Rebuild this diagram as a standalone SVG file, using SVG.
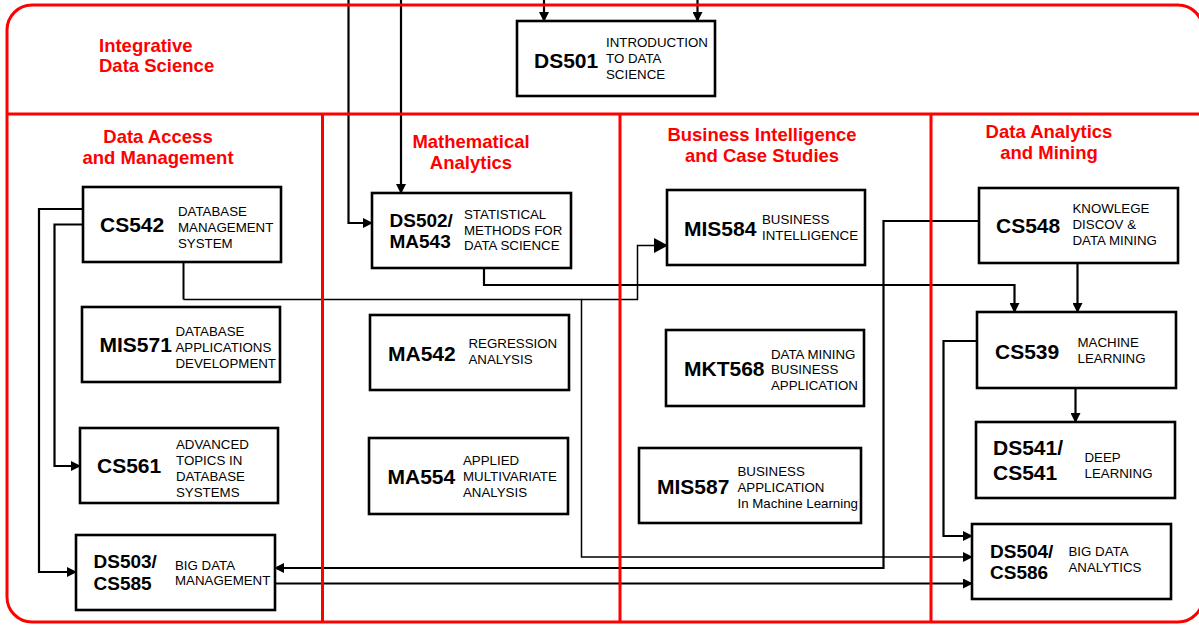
<svg xmlns="http://www.w3.org/2000/svg" width="1199" height="625" viewBox="0 0 1199 625">
<style>
.box{fill:#fff;stroke:#000;stroke-width:2.6}
.code{font-family:"Liberation Sans",Arial,sans-serif;font-weight:bold;font-size:21px;fill:#000}
.sm{font-size:19px}
.desc{font-family:"Liberation Sans",Arial,sans-serif;font-size:13.3px;fill:#000}
.hdr{font-family:"Liberation Sans",Arial,sans-serif;font-weight:bold;font-size:18.5px;fill:#ff0000}
.mid{text-anchor:middle}
.red{fill:none;stroke:#ff0000;stroke-width:3}
.c{fill:none;stroke:#000;stroke-width:2.2;marker-end:url(#arr)}
.t{fill:none;stroke:#000;stroke-width:1.5;marker-end:url(#arr)}
</style>
<defs>
<marker id="arr" markerUnits="userSpaceOnUse" markerWidth="10" markerHeight="10" refX="9" refY="5" orient="auto" viewBox="0 0 10 10">
<path d="M0,0 L10,5 L0,10 z" fill="#000"/>
</marker>
<marker id="arrL" markerUnits="userSpaceOnUse" markerWidth="14" markerHeight="15" refX="13" refY="7.5" orient="auto" viewBox="0 0 14 15">
<path d="M0,0 L14,7.5 L0,15 z" fill="#000"/>
</marker>
</defs>
<rect width="1199" height="625" fill="#fff"/>

<g id="connectors">
<path class="c" d="M544,0 V21"/>
<path class="c" d="M697.5,0 V21"/>
<path class="c" d="M348.5,0 V223 H372"/>
<path class="c" d="M401,0 V193"/>
<path class="c" d="M83,209 H39 V572 H76"/>
<path class="c" d="M83,224.5 H54.5 V466 H80"/>
<path fill="none" stroke="#000" stroke-width="2" d="M183.5,262 V299.5"/>
<path class="t" d="M183.5,299.5 H581.5 V557 H972"/>
<path fill="none" stroke="#000" stroke-width="1.5" marker-end="url(#arrL)" d="M581.5,299.5 H637.5 V245.5 H667"/>
<path class="c" d="M484,268 V285 H1014.5 V312"/>
<path class="c" d="M1077.5,263 V312"/>
<path class="c" d="M979,221 H883.5 V568 H275"/>
<path class="c" d="M1075.5,388 V422"/>
<path class="c" d="M977,341 H943.5 V536 H972"/>
<path class="c" d="M275,583.5 H972"/>
</g>

<g id="frame">
<rect class="red" x="7" y="5" width="1196" height="617" rx="25" ry="25"/>
<path class="red" d="M7,114 H1203 M322.5,114 V622 M620,114 V622 M931,114 V622"/>
<text class="hdr" x="99" y="51.5">Integrative</text>
<text class="hdr" x="99" y="72">Data Science</text>
<text class="hdr mid" x="158" y="142.5">Data Access</text>
<text class="hdr mid" x="158" y="163.5">and Management</text>
<text class="hdr mid" x="471" y="147.5">Mathematical</text>
<text class="hdr mid" x="471" y="168.5">Analytics</text>
<text class="hdr mid" x="762" y="140.5">Business Intelligence</text>
<text class="hdr mid" x="762" y="161.5">and Case Studies</text>
<text class="hdr mid" x="1049" y="137.5">Data Analytics</text>
<text class="hdr mid" x="1049" y="158.5">and Mining</text>
</g>

<g id="DS501">
<rect class="box" x="517" y="21" width="198" height="75"/>
<text class="code" x="534" y="68">DS501</text>
<text class="desc" x="606" y="46.5">INTRODUCTION</text>
<text class="desc" x="606" y="62.5">TO DATA</text>
<text class="desc" x="606" y="78.5">SCIENCE</text>
</g>

<g id="CS542">
<rect class="box" x="83" y="187" width="198" height="75"/>
<text class="code" x="100" y="232">CS542</text>
<text class="desc" x="178" y="215.5">DATABASE</text>
<text class="desc" x="178" y="231.5">MANAGEMENT</text>
<text class="desc" x="178" y="247.5">SYSTEM</text>
</g>

<g id="MIS571">
<rect class="box" x="82" y="307" width="198" height="75"/>
<text class="code" x="99.5" y="352">MIS571</text>
<text class="desc" x="175.5" y="336">DATABASE</text>
<text class="desc" x="175.5" y="352">APPLICATIONS</text>
<text class="desc" x="175.5" y="368">DEVELOPMENT</text>
</g>

<g id="CS561">
<rect class="box" x="80" y="428" width="198" height="75"/>
<text class="code" x="97" y="473">CS561</text>
<text class="desc" x="176" y="449">ADVANCED</text>
<text class="desc" x="176" y="465">TOPICS IN</text>
<text class="desc" x="176" y="481">DATABASE</text>
<text class="desc" x="176" y="497">SYSTEMS</text>
</g>

<g id="DS503">
<rect class="box" x="76" y="535" width="199" height="75"/>
<text class="code sm" x="93.5" y="568">DS503/</text>
<text class="code sm" x="93.5" y="590">CS585</text>
<text class="desc" x="175" y="569.5">BIG DATA</text>
<text class="desc" x="175" y="585">MANAGEMENT</text>
</g>

<g id="DS502">
<rect class="box" x="372" y="193" width="199" height="75"/>
<text class="code sm" x="389.5" y="227">DS502/</text>
<text class="code sm" x="389.5" y="248">MA543</text>
<text class="desc" x="464" y="218.5">STATISTICAL</text>
<text class="desc" x="464" y="234.5">METHODS FOR</text>
<text class="desc" x="464" y="250">DATA SCIENCE</text>
</g>

<g id="MA542">
<rect class="box" x="370" y="315" width="199" height="75"/>
<text class="code" x="388" y="361">MA542</text>
<text class="desc" x="468.5" y="348">REGRESSION</text>
<text class="desc" x="468.5" y="363.5">ANALYSIS</text>
</g>

<g id="MA554">
<rect class="box" x="369" y="438" width="199" height="76"/>
<text class="code" x="387.5" y="484">MA554</text>
<text class="desc" x="463" y="464.5">APPLIED</text>
<text class="desc" x="463" y="480.5">MULTIVARIATE</text>
<text class="desc" x="463" y="496.5">ANALYSIS</text>
</g>

<g id="MIS584">
<rect class="box" x="667" y="190" width="198" height="75"/>
<text class="code" x="684" y="236">MIS584</text>
<text class="desc" x="762" y="223.5">BUSINESS</text>
<text class="desc" x="762" y="239.5">INTELLIGENCE</text>
</g>

<g id="MKT568">
<rect class="box" x="666" y="330" width="198" height="76"/>
<text class="code" x="684" y="375.5">MKT568</text>
<text class="desc" x="771" y="358.5">DATA MINING</text>
<text class="desc" x="771" y="374">BUSINESS</text>
<text class="desc" x="771" y="390">APPLICATION</text>
</g>

<g id="MIS587">
<rect class="box" x="639" y="448" width="222" height="75"/>
<text class="code" x="657" y="493.5">MIS587</text>
<text class="desc" x="737.5" y="476">BUSINESS</text>
<text class="desc" x="737.5" y="492">APPLICATION</text>
<text class="desc" x="737.5" y="508">In Machine Learning</text>
</g>

<g id="CS548">
<rect class="box" x="979" y="188" width="199" height="75"/>
<text class="code" x="996" y="233">CS548</text>
<text class="desc" x="1072.5" y="213">KNOWLEGE</text>
<text class="desc" x="1072.5" y="229">DISCOV &amp;</text>
<text class="desc" x="1072.5" y="245">DATA MINING</text>
</g>

<g id="CS539">
<rect class="box" x="977" y="312" width="199" height="76"/>
<text class="code" x="995" y="359">CS539</text>
<text class="desc" x="1077.5" y="347">MACHINE</text>
<text class="desc" x="1077.5" y="363">LEARNING</text>
</g>

<g id="DS541">
<rect class="box" x="976" y="422" width="199" height="76"/>
<text class="code" x="993" y="454.5">DS541/</text>
<text class="code" x="993" y="479.5">CS541</text>
<text class="desc" x="1084.5" y="462">DEEP</text>
<text class="desc" x="1084.5" y="478">LEARNING</text>
</g>

<g id="DS504">
<rect class="box" x="972" y="524" width="199" height="75"/>
<text class="code sm" x="990" y="557.5">DS504/</text>
<text class="code sm" x="990" y="578.5">CS586</text>
<text class="desc" x="1068.5" y="556">BIG DATA</text>
<text class="desc" x="1068.5" y="572">ANALYTICS</text>
</g>
</svg>
